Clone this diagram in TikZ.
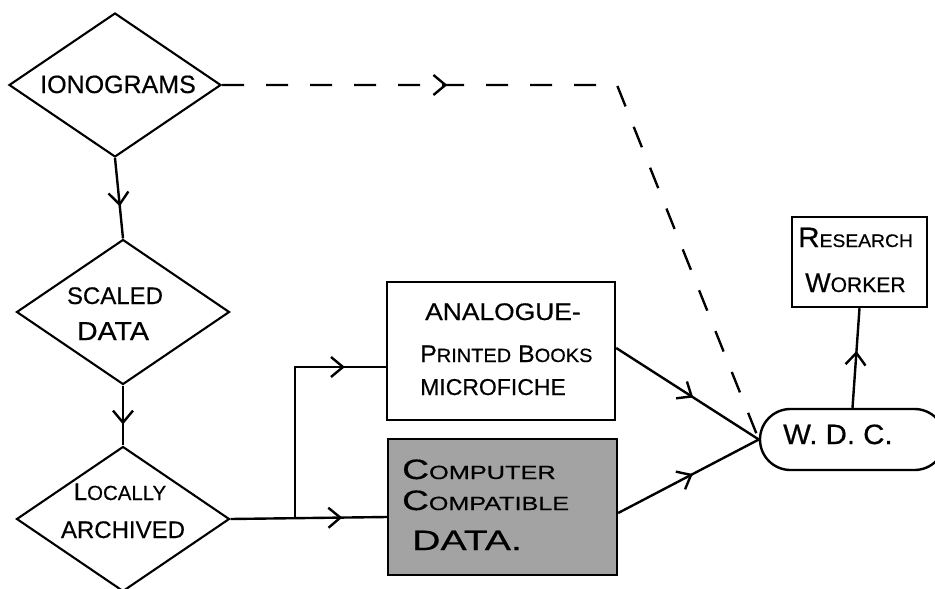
\documentclass[tikz,border=0pt]{standalone}
\usepackage{fontspec}
\usepackage{graphicx}
\setmainfont{Liberation Sans}[FakeBold=0.5]
\usetikzlibrary{shapes.geometric,shapes.misc,arrows.meta,decorations.markings}
\newcommand{\smc}[2][0.7]{\scalebox{#1}{#2}}
\newcommand{\wide}[2]{\scalebox{#1}[1]{#2}}
\newcommand{\fs}[1]{\fontsize{#1}{#1}\selectfont}
\begin{document}
\begin{tikzpicture}[x=1pt,y=-1pt,
  ln/.style={line width=2.4pt},
  dia/.style={draw, diamond, line width=2.1pt, inner sep=0pt, minimum width=213pt, minimum height=145pt},
  box/.style={draw, rectangle, line width=2.4pt, inner sep=0pt},
  txt/.style={inner sep=0pt, anchor=base west},
  ctxt/.style={inner sep=0pt, anchor=base},
  tipat/.style={postaction={decorate, decoration={markings, mark=at position #1 with {\arrow[solid]{Straight Barb[length=12pt,width=20pt]}}}}},
]
\useasboundingbox (0,0) rectangle (935,589);

% shapes
\node[dia, minimum width=212pt, minimum height=144pt] (ion) at (115,85) {};
\node[dia] (scl) at (123,312) {};
\node[dia] (loc) at (123,519) {};
\node[box, minimum width=228pt, minimum height=138pt] (ana) at (501,351) {};
\node[box, fill=black!36, minimum width=229pt, minimum height=136pt] (cmp) at (502.5,507) {};
\node[box, minimum width=135pt, minimum height=90pt] (rw) at (859.5,262) {};
\node[draw, rounded rectangle, line width=2.4pt, minimum width=185pt, minimum height=61pt, inner sep=0pt] (wdc) at (852.5,439.5) {};

% texts
\node[ctxt, font=\fs{25}] (ion-t) at (118,93) {IONOGRAMS};
\node[ctxt, font=\fs{24}] (scl-t1) at (115,304) {SCALED};
\node[ctxt, font=\fs{26}] (scl-t2) at (113,340) {\wide{1.1}{DATA}};
\node[ctxt, font=\fs{24}] (loc-t1) at (120,500) {L\smc[0.85]{OCALLY}};
\node[ctxt, font=\fs{24}] (loc-t2) at (123,538) {ARCHIVED};
\node[txt, font=\fs{24}] (ana-t1) at (425,320) {\wide{1.1}{ANALOGUE-}};
\node[txt, font=\fs{24}] (ana-t2) at (420,362) {\wide{1.04}{P\smc[0.8]{RINTED} B\smc[0.8]{OOKS}}};
\node[txt, font=\fs{23}] (ana-t3) at (420,395) {MICROFICHE};
\node[txt, font=\fs{28}] (cmp-t1) at (402,479) {\wide{1.33}{C\smc[0.68]{OMPUTER}}};
\node[txt, font=\fs{28}] (cmp-t2) at (402,510) {\wide{1.32}{C\smc[0.68]{OMPATIBLE}}};
\node[txt, font=\fs{28}] (cmp-t3) at (412,550) {\wide{1.4}{DATA.}};
\node[txt, font=\fs{28}] (rw-t1) at (798,247) {\wide{1.06}{R\smc[0.65]{ESEARCH}}};
\node[txt, font=\fs{27}] (rw-t2) at (805,292) {W\smc[0.78]{ORKER}};
\node[txt, font=\fs{28}] (wdc-t) at (783,444) {\wide{1.05}{W. D. C.}};

% connectors
\coordinate (bend) at (617,85);
\coordinate (jn) at (295,517);
\coordinate (ain) at (ana.west |- 0,367);
\coordinate (cin) at (cmp.west |- 0,517);
\coordinate (aout) at (ana.east |- 0,348);
\coordinate (cout) at (cmp.east |- 0,513);

\draw[ln, tipat=0.6] (ion.south) -- (scl.north);
\draw[ln, tipat=0.65] (scl.south) -- (loc.north);
\draw[ln, tipat=0.715] (loc.east) -- (cin);
\draw[ln, tipat=0.83] (jn) |- (ain);
\draw[ln, tipat=0.54] (aout) -- (wdc.west);
\draw[ln, tipat=0.53] (cout) -- (wdc.west);
\draw[ln, tipat=0.57] (wdc.north) -- (rw.south);
\draw[ln, dash pattern=on 22pt off 22pt, tipat=0.29] (ion.east) -- (bend) -- (wdc.west);
\end{tikzpicture}
\end{document}
